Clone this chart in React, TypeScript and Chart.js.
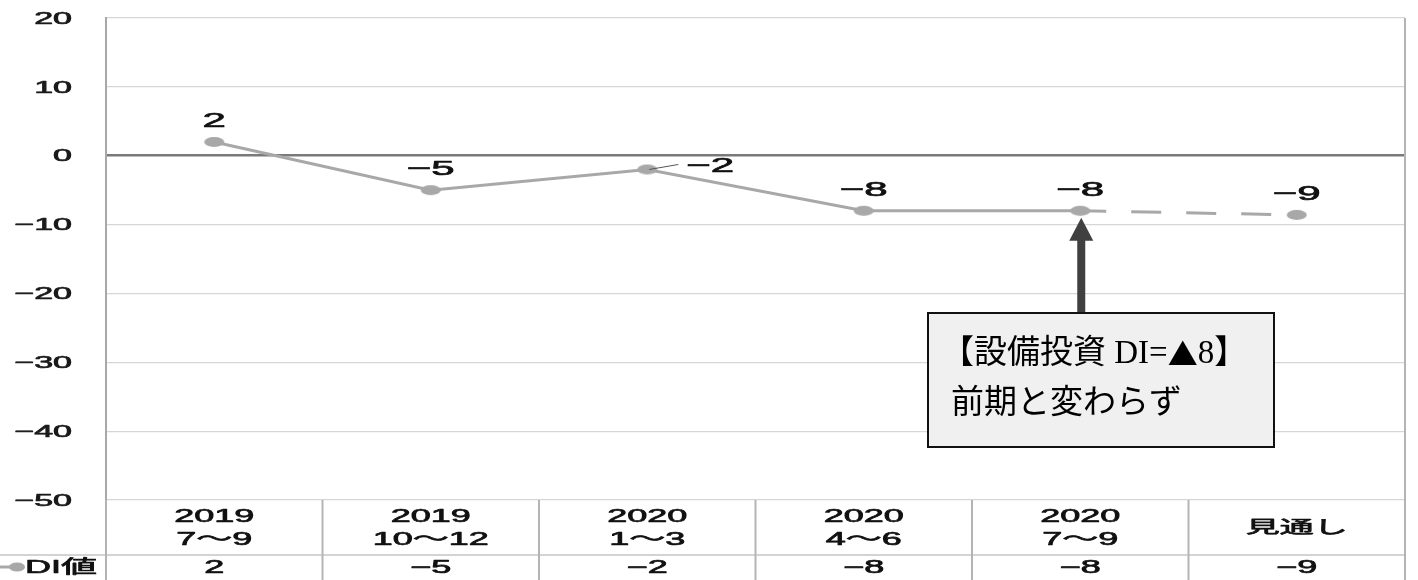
import React, { useEffect, useRef } from "react";
import { Chart, registerables } from "chart.js";
Chart.register(...registerables);

// ---- data ----
const categories: string[][] = [
  ["2019", "7〜9"],
  ["2019", "10〜12"],
  ["2020", "1〜3"],
  ["2020", "4〜6"],
  ["2020", "7〜9"],
  ["見通し"],
];
const diValues = [2, -5, -2, -8, -8, -8.6];
const yTicks = [20, 10, 0, -10, -20, -30, -40, -50];
const seriesName = "DI値";
const noteLine1 = ["【設備投資 DI=", "▲", "8】"];
const noteLine2 = "前期と変わらず";

const SANS = '"Liberation Sans", "Noto Sans CJK JP", sans-serif';
const SERIF = '"Liberation Serif", "Noto Sans CJK JP", serif';
const CJK = '"Noto Sans CJK JP", sans-serif';
const LINE_COLOR = "#a8a8a8";

const fmt = (v: number) => {
  const r = Math.round(v);
  return r < 0 ? "\u2212" + Math.abs(r) : String(r);
};

function sText(
  ctx: CanvasRenderingContext2D,
  text: string,
  x: number,
  y: number,
  align: CanvasTextAlign,
  size: number,
  color = "#111",
  sx = 2
) {
  ctx.save();
  ctx.font = `${size}px ${SANS}`;
  ctx.fillStyle = color;
  ctx.strokeStyle = color;
  ctx.lineWidth = 0.7;
  ctx.lineJoin = "round";
  ctx.textAlign = align;
  ctx.textBaseline = "middle";
  ctx.translate(x, y);
  ctx.scale(sx, 1);
  ctx.fillText(text, 0, 0);
  ctx.strokeText(text, 0, 0);
  ctx.restore();
}

function makeDot(rx: number, ry: number, color: string) {
  const c = document.createElement("canvas");
  c.width = rx * 2 + 2;
  c.height = ry * 2 + 2;
  const g = c.getContext("2d")!;
  g.fillStyle = color;
  g.beginPath();
  g.ellipse(c.width / 2, c.height / 2, rx, ry, 0, 0, Math.PI * 2);
  g.fill();
  return c;
}

const overlayPlugin = {
  id: "overlay",
  afterDatasetsDraw(chart: any) {
    const ctx: CanvasRenderingContext2D = chart.ctx;
    const meta = chart.getDatasetMeta(0);
    meta.data.forEach((pt: any, i: number) => {
      const label = fmt(diValues[i]);
      if (i === 2) {
        ctx.save();
        ctx.strokeStyle = "#555";
        ctx.lineWidth = 1;
        ctx.beginPath();
        ctx.moveTo(pt.x + 2, pt.y);
        ctx.lineTo(pt.x + 31, pt.y - 5);
        ctx.stroke();
        ctx.restore();
        sText(ctx, label, pt.x + 63, pt.y - 3, "center", 21);
      } else {
        sText(ctx, label, pt.x, pt.y - 21, "center", 21);
      }
    });
  },
  afterDraw(chart: any) {
    const ctx: CanvasRenderingContext2D = chart.ctx;
    const area = chart.chartArea;
    const ys = chart.scales.y;
    const xs = chart.scales.x;
    const meta = chart.getDatasetMeta(0);

    // y tick labels
    yTicks.forEach((v) => {
      sText(ctx, fmt(v), 72, ys.getPixelForValue(v) + 1, "right", 17, "#1a1a1a");
    });

    // table
    const n = categories.length;
    const w = (area.right - area.left) / n;
    const rowSplit = area.bottom + 55;
    const bottom = chart.height;
    ctx.save();
    ctx.strokeStyle = "#c4c4c4";
    ctx.lineWidth = 1.5;
    ctx.beginPath();
    ctx.moveTo(0, rowSplit);
    ctx.lineTo(area.right, rowSplit);
    ctx.stroke();
    ctx.strokeStyle = "#b4b4b4";
    ctx.lineWidth = 2;
    for (let i = 0; i <= n; i++) {
      const x = area.left + i * w;
      ctx.beginPath();
      ctx.moveTo(x, i === n ? area.top : area.bottom);
      ctx.lineTo(x, bottom);
      ctx.stroke();
    }
    ctx.restore();

    categories.forEach((lines, i) => {
      const cx = xs.getPixelForValue(i);
      if (lines.length === 2) {
        sText(ctx, lines[0], cx, area.bottom + 17, "center", 18);
        sText(ctx, lines[1], cx, area.bottom + 40, "center", 18);
      } else {
        sText(ctx, lines[0], cx, area.bottom + 28, "center", 17);
      }
      sText(ctx, fmt(diValues[i]), cx, rowSplit + 13, "center", 18);
    });

    // legend key in table
    ctx.save();
    ctx.strokeStyle = LINE_COLOR;
    ctx.lineWidth = 3;
    ctx.beginPath();
    ctx.moveTo(0, rowSplit + 12);
    ctx.lineTo(16, rowSplit + 12);
    ctx.stroke();
    ctx.fillStyle = LINE_COLOR;
    ctx.beginPath();
    ctx.ellipse(17, rowSplit + 12, 8, 4.5, 0, 0, Math.PI * 2);
    ctx.fill();
    ctx.restore();
    sText(ctx, seriesName, 25, rowSplit + 13, "left", 18);

    // annotation arrow
    const target = meta.data[4];
    const ax = target.x + 1;
    const boxTop = 313;
    ctx.save();
    ctx.fillStyle = "#404040";
    ctx.fillRect(ax - 4, target.y + 28, 8, boxTop - (target.y + 28));
    ctx.beginPath();
    ctx.moveTo(ax, target.y + 7);
    ctx.lineTo(ax - 12, target.y + 30);
    ctx.lineTo(ax + 12, target.y + 30);
    ctx.closePath();
    ctx.fill();

    // annotation box
    ctx.fillStyle = "#f0f0f0";
    ctx.fillRect(928, boxTop, 346, 134);
    ctx.strokeStyle = "#111";
    ctx.lineWidth = 2;
    ctx.strokeRect(928, boxTop, 346, 134);
    ctx.fillStyle = "#000";
    ctx.textAlign = "left";
    ctx.textBaseline = "middle";
    let tx = 941;
    noteLine1.forEach((part) => {
      ctx.font = part === "▲" ? `30px ${CJK}` : `33px ${SERIF}`;
      ctx.fillText(part, tx, 354);
      tx += ctx.measureText(part).width;
    });
    ctx.font = `33px ${SERIF}`;
    ctx.fillText(noteLine2, 951, 404);
    ctx.restore();
  },
};

export default function App() {
  const ref = useRef<HTMLCanvasElement | null>(null);
  useEffect(() => {
    if (!ref.current) return;
    const dot = makeDot(10, 5, LINE_COLOR);
    const chart = new Chart(ref.current, {
      type: "line",
      data: {
        labels: categories.map((c) => c.join(" ")),
        datasets: [
          {
            label: seriesName,
            data: diValues,
            borderColor: LINE_COLOR,
            backgroundColor: LINE_COLOR,
            borderWidth: 3,
            pointStyle: dot as any,
            pointRadius: 10,
            tension: 0,
            segment: {
              borderDash: (c: any) => (c.p0DataIndex === 4 ? [30, 25] : undefined),
              borderDashOffset: (c: any) => (c.p0DataIndex === 4 ? 4 : 0),
            },
          },
        ],
      },
      options: {
        responsive: false,
        animation: false,
        devicePixelRatio: 1,
        layout: { padding: { left: 106, right: 8, top: 18, bottom: 80 } },
        plugins: { legend: { display: false }, tooltip: { enabled: false } },
        scales: {
          x: {
            offset: true,
            grid: { display: false, drawTicks: false },
            border: { display: false },
            ticks: { display: false },
            afterFit: (s: any) => {
              s.height = 0;
            },
          },
          y: {
            min: -50,
            max: 20,
            ticks: { display: false, stepSize: 10 },
            grid: {
              drawTicks: false,
              color: (c: any) => (c.tick && c.tick.value === 0 ? "#7a7a7a" : "#d6d6d6"),
              lineWidth: (c: any) => (c.tick && c.tick.value === 0 ? 2.5 : 1.2),
            },
            border: { display: true, color: "#a8a8a8", width: 2 },
            afterFit: (s: any) => {
              s.width = 0;
            },
          },
        },
      },
      plugins: [overlayPlugin],
    });
    return () => chart.destroy();
  }, []);
  return (
    <div style={{ position: "fixed", left: 0, top: 0, width: 1418, height: 580, background: "#fff" }}>
      <canvas ref={ref} width={1418} height={580} style={{ display: "block" }} />
    </div>
  );
}
